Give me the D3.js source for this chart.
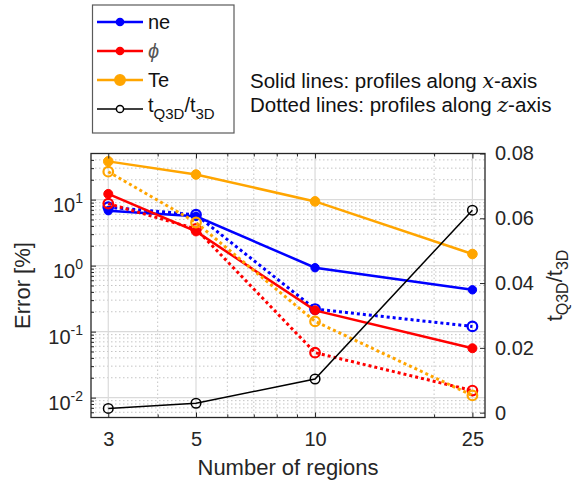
<!DOCTYPE html>
<html>
<head>
<meta charset="utf-8">
<script src="https://cdn.jsdelivr.net/npm/d3@7/dist/d3.min.js"></script>
<style>
  body { margin: 0; background: #fff; }
  svg { display: block; }
  text { font-family: "Liberation Sans", Arial, sans-serif; }
</style>
</head>
<body>
<svg id="chart" width="574" height="486"></svg>
<script>
// Number of regions on the x axis
const regions = [3, 5, 10, 25];

// Error [%], solid = profiles along x, dotted = profiles along z
const neX  = [6.8, 5.6, 0.93, 0.43];
const neZ  = [7.7, 5.9, 0.22, 0.12];
const phiX = [12.2, 3.3, 0.21, 0.056];
const phiZ = [8.7, 3.6, 0.048, 0.0128];
const teX  = [38, 24, 9.4, 1.5];
const teZ  = [26.5, 4.5, 0.143, 0.0108];

// Run-time ratio t_Q3D / t_3D (right axis)
const timeRatio = [0.0013, 0.0029, 0.0104, 0.0625];

// Tick values
const xTicks = [3, 5, 10, 25];
const xMinorTicks = [4, 6, 7, 8, 9, 20];
const yTicks = [0.01, 0.1, 1, 10];
const yRightTicks = [0, 0.02, 0.04, 0.06, 0.08];

const svg = d3.select("#chart");
const box = { left: 91, right: 485, top: 153.5, bottom: 417.5 };
const axisColor = "#262626";

const x = d3.scaleLog().domain([2.713, 26.9]).range([box.left, box.right]);
const y = d3.scaleLog().domain([0.005, 50]).range([box.bottom, box.top]);
const yR = d3.scaleLinear().domain([-0.0015, 0.08]).range([box.bottom, box.top]);

// minor log positions of the left axis (2..9 in every decade)
const yMinorTicks = [];
[0.001, 0.01, 0.1, 1, 10].forEach(d => {
  for (let k = 2; k <= 9; k++) {
    const v = d * k;
    if (v > 0.005 && v < 50) yMinorTicks.push(v);
  }
});

// ---------- grid ----------
const grid = svg.append("g");
grid.selectAll(".gxm").data(xMinorTicks).join("line")
  .attr("x1", d => x(d)).attr("x2", d => x(d))
  .attr("y1", box.top).attr("y2", box.bottom)
  .attr("stroke", "#c4c4c4").attr("stroke-width", 1).attr("stroke-dasharray", "1.5,2.5");
grid.selectAll(".gym").data(yMinorTicks).join("line")
  .attr("y1", d => y(d)).attr("y2", d => y(d))
  .attr("x1", box.left).attr("x2", box.right)
  .attr("stroke", "#c4c4c4").attr("stroke-width", 1).attr("stroke-dasharray", "1.5,2.5");
grid.selectAll(".gx").data(xTicks).join("line")
  .attr("x1", d => x(d)).attr("x2", d => x(d))
  .attr("y1", box.top).attr("y2", box.bottom)
  .attr("stroke", "#dadada").attr("stroke-width", 1.2);
grid.selectAll(".gy").data(yTicks).join("line")
  .attr("y1", d => y(d)).attr("y2", d => y(d))
  .attr("x1", box.left).attr("x2", box.right)
  .attr("stroke", "#dadada").attr("stroke-width", 1.2);

// ---------- series ----------
const series = [
  { vals: neX,  color: "#0000ff", dotted: false, marker: "dot", r: 4.2 },
  { vals: neZ,  color: "#0000ff", dotted: true,  marker: "ring", r: 4.8 },
  { vals: phiX, color: "#ff0000", dotted: false, marker: "dot", r: 4.5 },
  { vals: phiZ, color: "#ff0000", dotted: true,  marker: "ring", r: 4.8 },
  { vals: teX,  color: "#ffa500", dotted: false, marker: "dot", r: 4.8 },
  { vals: teZ,  color: "#ffa500", dotted: true,  marker: "ring", r: 4.8 }
];

const lineL = d3.line().x(d => x(d[0])).y(d => y(d[1]));
const plot = svg.append("g");

series.forEach(s => {
  const pts = regions.map((r, i) => [r, s.vals[i]]);
  plot.append("path").datum(pts)
    .attr("d", lineL).attr("fill", "none")
    .attr("stroke", s.color)
    .attr("stroke-width", s.dotted ? 3 : 2.5)
    .attr("stroke-dasharray", s.dotted ? "3,3" : null);
  plot.append("g").selectAll("circle").data(pts).join("circle")
    .attr("cx", d => x(d[0])).attr("cy", d => y(d[1]))
    .attr("r", s.r)
    .attr("fill", s.marker === "dot" ? s.color : "none")
    .attr("stroke", s.color)
    .attr("stroke-width", s.marker === "dot" ? 1 : 2.2);
});

// time ratio on right axis
const ratioPts = regions.map((r, i) => [r, timeRatio[i]]);
const lineR = d3.line().x(d => x(d[0])).y(d => yR(d[1]));
plot.append("path").datum(ratioPts)
  .attr("d", lineR).attr("fill", "none")
  .attr("stroke", "#000").attr("stroke-width", 1.5);
plot.append("g").selectAll("circle").data(ratioPts).join("circle")
  .attr("cx", d => x(d[0])).attr("cy", d => yR(d[1]))
  .attr("r", 4.8).attr("fill", "none")
  .attr("stroke", "#000").attr("stroke-width", 1.5);

// ---------- axes ----------
const tickFont = 20;

// bottom
const gx = svg.append("g").attr("transform", `translate(0,${box.bottom})`)
  .call(d3.axisBottom(x).tickValues(xTicks).tickFormat(d3.format("d")).tickSize(-5).tickPadding(14));
gx.selectAll(".tick text").attr("font-size", tickFont).attr("fill", axisColor)
  .attr("font-family", "Liberation Sans, Arial, sans-serif");
svg.append("g").attr("transform", `translate(0,${box.bottom})`)
  .call(d3.axisBottom(x).tickValues(xMinorTicks).tickFormat("").tickSize(-3));

// top mirror ticks
svg.append("g").attr("transform", `translate(0,${box.top})`)
  .call(d3.axisTop(x).tickValues(xTicks).tickFormat("").tickSize(-5));
svg.append("g").attr("transform", `translate(0,${box.top})`)
  .call(d3.axisTop(x).tickValues(xMinorTicks).tickFormat("").tickSize(-3));

// left (log)
const gy = svg.append("g").attr("transform", `translate(${box.left},0)`)
  .call(d3.axisLeft(y).tickValues(yTicks).tickSize(-5).tickPadding(8).tickFormat(""));
svg.append("g").attr("transform", `translate(${box.left},0)`)
  .call(d3.axisLeft(y).tickValues(yMinorTicks).tickFormat("").tickSize(-3));
gy.selectAll(".tick text").each(function (d) {
  const t = d3.select(this);
  const p = Math.round(Math.log10(d));
  t.attr("font-size", tickFont).attr("fill", axisColor)
   .attr("font-family", "Liberation Sans, Arial, sans-serif")
   .attr("dy", "0.6em").attr("x", -8);
  t.text(null);
  t.append("tspan").text("10");
  t.append("tspan").attr("font-size", 14).attr("dy", -9).text(String(p));
});

// right (linear)
const gyr = svg.append("g").attr("transform", `translate(${box.right},0)`)
  .call(d3.axisRight(yR).tickValues(yRightTicks).tickSize(-5).tickPadding(10)
    .tickFormat(d => d === 0 ? "0" : d3.format(".2f")(d)));
gyr.selectAll(".tick text").attr("font-size", tickFont).attr("fill", axisColor)
  .attr("font-family", "Liberation Sans, Arial, sans-serif");

svg.selectAll(".tick line").attr("stroke", axisColor).attr("stroke-width", 1);
svg.selectAll(".domain").remove();

// axes box
svg.append("rect")
  .attr("x", box.left).attr("y", box.top)
  .attr("width", box.right - box.left).attr("height", box.bottom - box.top)
  .attr("fill", "none").attr("stroke", axisColor).attr("stroke-width", 1.3);

// ---------- axis labels ----------
svg.append("text")
  .attr("x", (box.left + box.right) / 2).attr("y", 475)
  .attr("text-anchor", "middle").attr("font-size", 22).attr("fill", axisColor)
  .text("Number of regions");

svg.append("text")
  .attr("transform", `translate(30,${(box.top + box.bottom) / 2}) rotate(-90)`)
  .attr("text-anchor", "middle").attr("font-size", 22).attr("fill", axisColor)
  .text("Error [%]");

const rl = svg.append("text")
  .attr("transform", `translate(562,${(box.top + box.bottom) / 2}) rotate(-90)`)
  .attr("text-anchor", "middle").attr("font-size", 22).attr("fill", axisColor);
rl.append("tspan").text("t");
rl.append("tspan").attr("font-size", 16).attr("dy", 6).text("Q3D");
rl.append("tspan").attr("dy", -6).text("/t");
rl.append("tspan").attr("font-size", 16).attr("dy", 6).text("3D");

// ---------- legend ----------
const legend = svg.append("g");
legend.append("rect")
  .attr("x", 92.5).attr("y", 5).attr("width", 141.5).attr("height", 128)
  .attr("fill", "#fff").attr("stroke", "#5a5a5a").attr("stroke-width", 1.2);

const legendItems = [
  { color: "#0000ff", marker: "dot",  r: 3.6, cy: 22 },
  { color: "#ff0000", marker: "dot",  r: 3.6, cy: 51 },
  { color: "#ffa500", marker: "dot",  r: 5.2, cy: 80 },
  { color: "#000000", marker: "ring", r: 3.6, cy: 109 }
];
legendItems.forEach(it => {
  legend.append("line")
    .attr("x1", 97).attr("x2", 143).attr("y1", it.cy).attr("y2", it.cy)
    .attr("stroke", it.color).attr("stroke-width", it.marker === "ring" ? 1.5 : 2.5);
  legend.append("circle")
    .attr("cx", 120).attr("cy", it.cy).attr("r", it.r)
    .attr("fill", it.marker === "dot" ? it.color : "#fff")
    .attr("stroke", it.color).attr("stroke-width", 1.5);
});
legend.append("text").attr("x", 148).attr("y", 22 + 7).attr("font-size", 20)
  .attr("fill", "#111").text("ne");
legend.append("text").attr("x", 148).attr("y", 51 + 7).attr("font-size", 20)
  .attr("font-family", "DejaVu Serif, serif").attr("font-style", "italic")
  .attr("fill", "#555").text("ϕ");
legend.append("text").attr("x", 148).attr("y", 80 + 7).attr("font-size", 20)
  .attr("fill", "#111").text("Te");
const lt = legend.append("text").attr("x", 148).attr("y", 109 + 3).attr("font-size", 20).attr("fill", "#111");
lt.append("tspan").text("t");
lt.append("tspan").attr("font-size", 15).attr("dy", 7).text("Q3D");
lt.append("tspan").attr("dy", -7).text("/t");
lt.append("tspan").attr("font-size", 15).attr("dy", 7).text("3D");

// ---------- note ----------
const note = svg.append("g").attr("font-family", "Noto Sans, sans-serif")
  .attr("font-size", 20.5).attr("fill", "#111").style("white-space", "pre");
const n1 = note.append("text").attr("x", 250).attr("y", 88);
n1.append("tspan").text("Solid lines: profiles along ");
n1.append("tspan").attr("font-family", "DejaVu Serif, serif").attr("font-style", "italic").text("x");
n1.append("tspan").text("-axis");
const n2 = note.append("text").attr("x", 250).attr("y", 112);
n2.append("tspan").text("Dotted lines:  profiles along ");
n2.append("tspan").attr("font-family", "DejaVu Serif, serif").attr("font-style", "italic").text("z");
n2.append("tspan").text("-axis");
</script>
</body>
</html>
